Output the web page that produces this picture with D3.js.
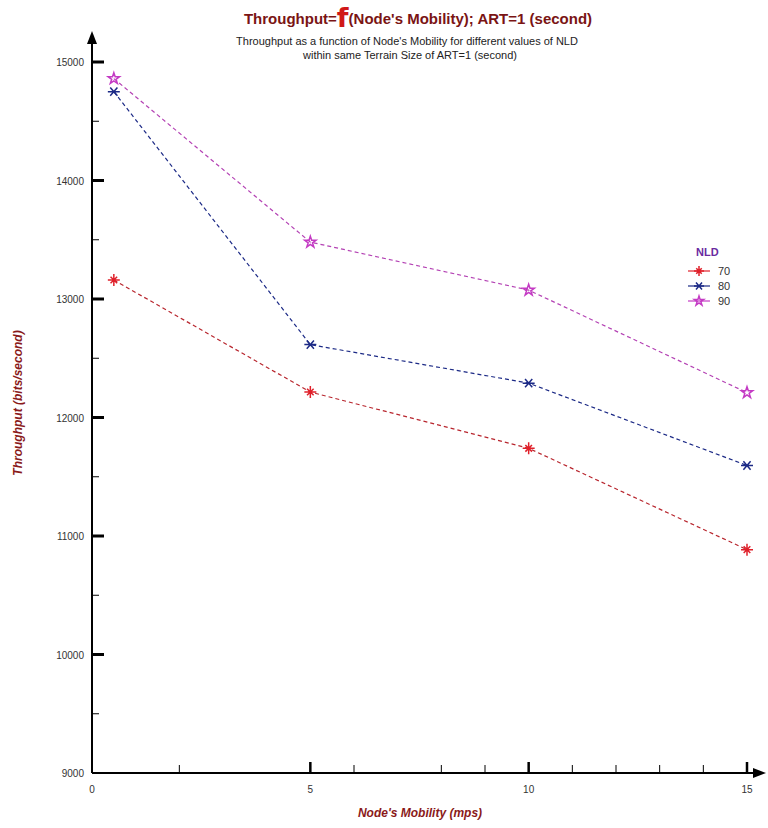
<!DOCTYPE html>
<html>
<head>
<meta charset="utf-8">
<script src="https://d3js.org/d3.v7.min.js"></script>
<style>
  body { margin: 0; background: #fff; }
  text { font-family: "Liberation Sans", Arial, sans-serif; }
</style>
</head>
<body>
<div id="chart"></div>
<script>
// data
var mobility = [0.5, 5, 10, 15];
var nld70 = [13160, 12215, 11740, 10885];
var nld80 = [14750, 12615, 12290, 11595];
var nld90 = [14860, 13480, 13075, 12210];
var seriesNames = ["70", "80", "90"];
var yTicks = [9000, 10000, 11000, 12000, 13000, 14000, 15000];
var yMinor = [9500, 10500, 11500, 12500, 13500, 14500];
var xTicks = [0, 5, 10, 15];
var xMinor = [2, 6, 8, 9, 11, 12, 13, 14];

var colors = ["#e0202a", "#1c2a86", "#c43ac4"];
var lineColors = ["#b8262e", "#1c2a86", "#b442b4"];

// set the dimensions and margins of the graph
var margin = {top: 62, right: 21, bottom: 55, left: 92},
    width = 768 - margin.left - margin.right,
    height = 828 - margin.top - margin.bottom;

var root = d3.select("#chart")
  .append("svg")
    .attr("width", 768)
    .attr("height", 828);

var svg = root.append("g")
    .attr("transform", "translate(" + margin.left + "," + margin.top + ")");

var x = d3.scaleLinear().domain([0, 15]).range([0, width]);
var y = d3.scaleLinear().domain([9000, 15000]).range([height, 0]);

// titles
var title = root.append("text")
    .attr("x", 418)
    .attr("y", 24)
    .attr("text-anchor", "middle")
    .style("font-size", "15px")
    .style("font-weight", "bold")
    .style("fill", "#7a1414");
title.append("tspan").text("Throughput=");
title.append("tspan")
    .text("f")
    .attr("dy", 3)
    .style("font-size", "27px")
    .style("fill", "#d01818")
    .style("font-family", "'DejaVu Sans'");
title.append("tspan").attr("dy", -3).text("(Node's Mobility); ART=1 (second)");

root.append("text")
    .attr("x", 407)
    .attr("y", 45)
    .attr("text-anchor", "middle")
    .style("font-size", "11px")
    .style("fill", "#222")
    .text("Throughput as a function of Node's Mobility for different values of NLD");
root.append("text")
    .attr("x", 410)
    .attr("y", 59)
    .attr("text-anchor", "middle")
    .style("font-size", "11px")
    .style("fill", "#222")
    .text("within same Terrain Size of ART=1 (second)");

// Y axis
svg.append("line")
    .attr("x1", 0).attr("x2", 0)
    .attr("y1", height).attr("y2", -22)
    .attr("stroke", "#000").attr("stroke-width", 2);
svg.append("path")
    .attr("d", "M-5,-18 L0,-31 L5,-18 Z")
    .attr("fill", "#000");

svg.selectAll(".ymaj")
  .data(yTicks.slice(1))
  .enter()
  .append("line")
    .attr("x1", 0).attr("x2", 12)
    .attr("y1", function (d) { return y(d); })
    .attr("y2", function (d) { return y(d); })
    .attr("stroke", "#000").attr("stroke-width", 3);
svg.selectAll(".ymin")
  .data(yMinor)
  .enter()
  .append("line")
    .attr("x1", 0).attr("x2", 7)
    .attr("y1", function (d) { return y(d); })
    .attr("y2", function (d) { return y(d); })
    .attr("stroke", "#000").attr("stroke-width", 1);
svg.selectAll(".ylab")
  .data(yTicks)
  .enter()
  .append("text")
    .attr("x", -8)
    .attr("y", function (d) { return y(d) + 4; })
    .attr("text-anchor", "end")
    .style("font-size", "10px")
    .style("fill", "#333")
    .text(function (d) { return d; });

// X axis
svg.append("line")
    .attr("x1", 0).attr("x2", width + 8)
    .attr("y1", height).attr("y2", height)
    .attr("stroke", "#000").attr("stroke-width", 2);
svg.append("path")
    .attr("d", "M" + (width + 6) + "," + (height - 5) + " L" + (width + 19) + "," + height + " L" + (width + 6) + "," + (height + 5) + " Z")
    .attr("fill", "#000");

svg.selectAll(".xmaj")
  .data(xTicks.slice(1))
  .enter()
  .append("line")
    .attr("x1", function (d) { return x(d); })
    .attr("x2", function (d) { return x(d); })
    .attr("y1", height).attr("y2", height - 11)
    .attr("stroke", "#000").attr("stroke-width", 2.5);
svg.selectAll(".xmin")
  .data(xMinor)
  .enter()
  .append("line")
    .attr("x1", function (d) { return x(d); })
    .attr("x2", function (d) { return x(d); })
    .attr("y1", height).attr("y2", height - 8)
    .attr("stroke", "#000").attr("stroke-width", 1);
svg.selectAll(".xlab")
  .data(xTicks)
  .enter()
  .append("text")
    .attr("x", function (d) { return x(d); })
    .attr("y", height + 20)
    .attr("text-anchor", "middle")
    .style("font-size", "10px")
    .style("fill", "#333")
    .text(function (d) { return d; });

// axis labels
root.append("text")
    .attr("x", 420)
    .attr("y", 817)
    .attr("text-anchor", "middle")
    .style("font-size", "12px")
    .style("font-weight", "bold")
    .style("font-style", "italic")
    .style("fill", "#8a1a1a")
    .text("Node's Mobility (mps)");
root.append("text")
    .attr("transform", "translate(22,403) rotate(-90)")
    .attr("text-anchor", "middle")
    .style("font-size", "12px")
    .style("font-weight", "bold")
    .style("font-style", "italic")
    .style("fill", "#8a1a1a")
    .text("Throughput (bits/second)");

// markers
function marker(g, i, s) {
  var p;
  if (i === 0) {
    p = "M" + -s + ",0H" + s + "M0," + -s + "V" + s +
        "M" + (-s * 0.55) + "," + (-s * 0.55) + "L" + (s * 0.55) + "," + (s * 0.55) +
        "M" + (-s * 0.55) + "," + (s * 0.55) + "L" + (s * 0.55) + "," + (-s * 0.55);
  } else if (i === 1) {
    p = "M" + -s + ",0H" + s +
        "M" + (-s * 0.6) + "," + (-s * 0.7) + "L" + (s * 0.6) + "," + (s * 0.7) +
        "M" + (-s * 0.6) + "," + (s * 0.7) + "L" + (s * 0.6) + "," + (-s * 0.7);
  } else {
    p = d3.symbol().type(d3.symbolStar).size(s * s * 1.1)();
  }
  g.append("path")
    .attr("d", p)
    .attr("fill", "none")
    .attr("stroke", colors[i])
    .attr("stroke-width", 1.5);
}

var series = [nld70, nld80, nld90];
var line = d3.line()
    .x(function (d) { return x(d[0]); })
    .y(function (d) { return y(d[1]); });

series.forEach(function (vals, i) {
  var pts = mobility.map(function (m, j) { return [m, vals[j]]; });
  svg.append("path")
    .datum(pts)
    .attr("d", line)
    .attr("fill", "none")
    .attr("stroke", lineColors[i])
    .attr("stroke-width", 1.2)
    .attr("stroke-dasharray", "4,3");
  pts.forEach(function (d) {
    var g = svg.append("g")
      .attr("transform", "translate(" + x(d[0]) + "," + y(d[1]) + ")");
    marker(g, i, 6);
  });
});

// legend
var legend = root.append("g").attr("transform", "translate(688,256)");
legend.append("text")
    .attr("x", 8).attr("y", 0)
    .style("font-size", "11px")
    .style("font-weight", "bold")
    .style("fill", "#6a2aa0")
    .text("NLD");
seriesNames.forEach(function (n, i) {
  var row = legend.append("g").attr("transform", "translate(0," + (15 + i * 15) + ")");
  row.append("line")
    .attr("x1", 0).attr("x2", 22)
    .attr("y1", 0).attr("y2", 0)
    .attr("stroke", colors[i])
    .attr("stroke-width", 1.2);
  var mg = row.append("g").attr("transform", "translate(11,0)");
  marker(mg, i, 5);
  row.append("text")
    .attr("x", 30).attr("y", 4)
    .style("font-size", "11px")
    .style("fill", "#333")
    .text(n);
});
</script>
</body>
</html>
